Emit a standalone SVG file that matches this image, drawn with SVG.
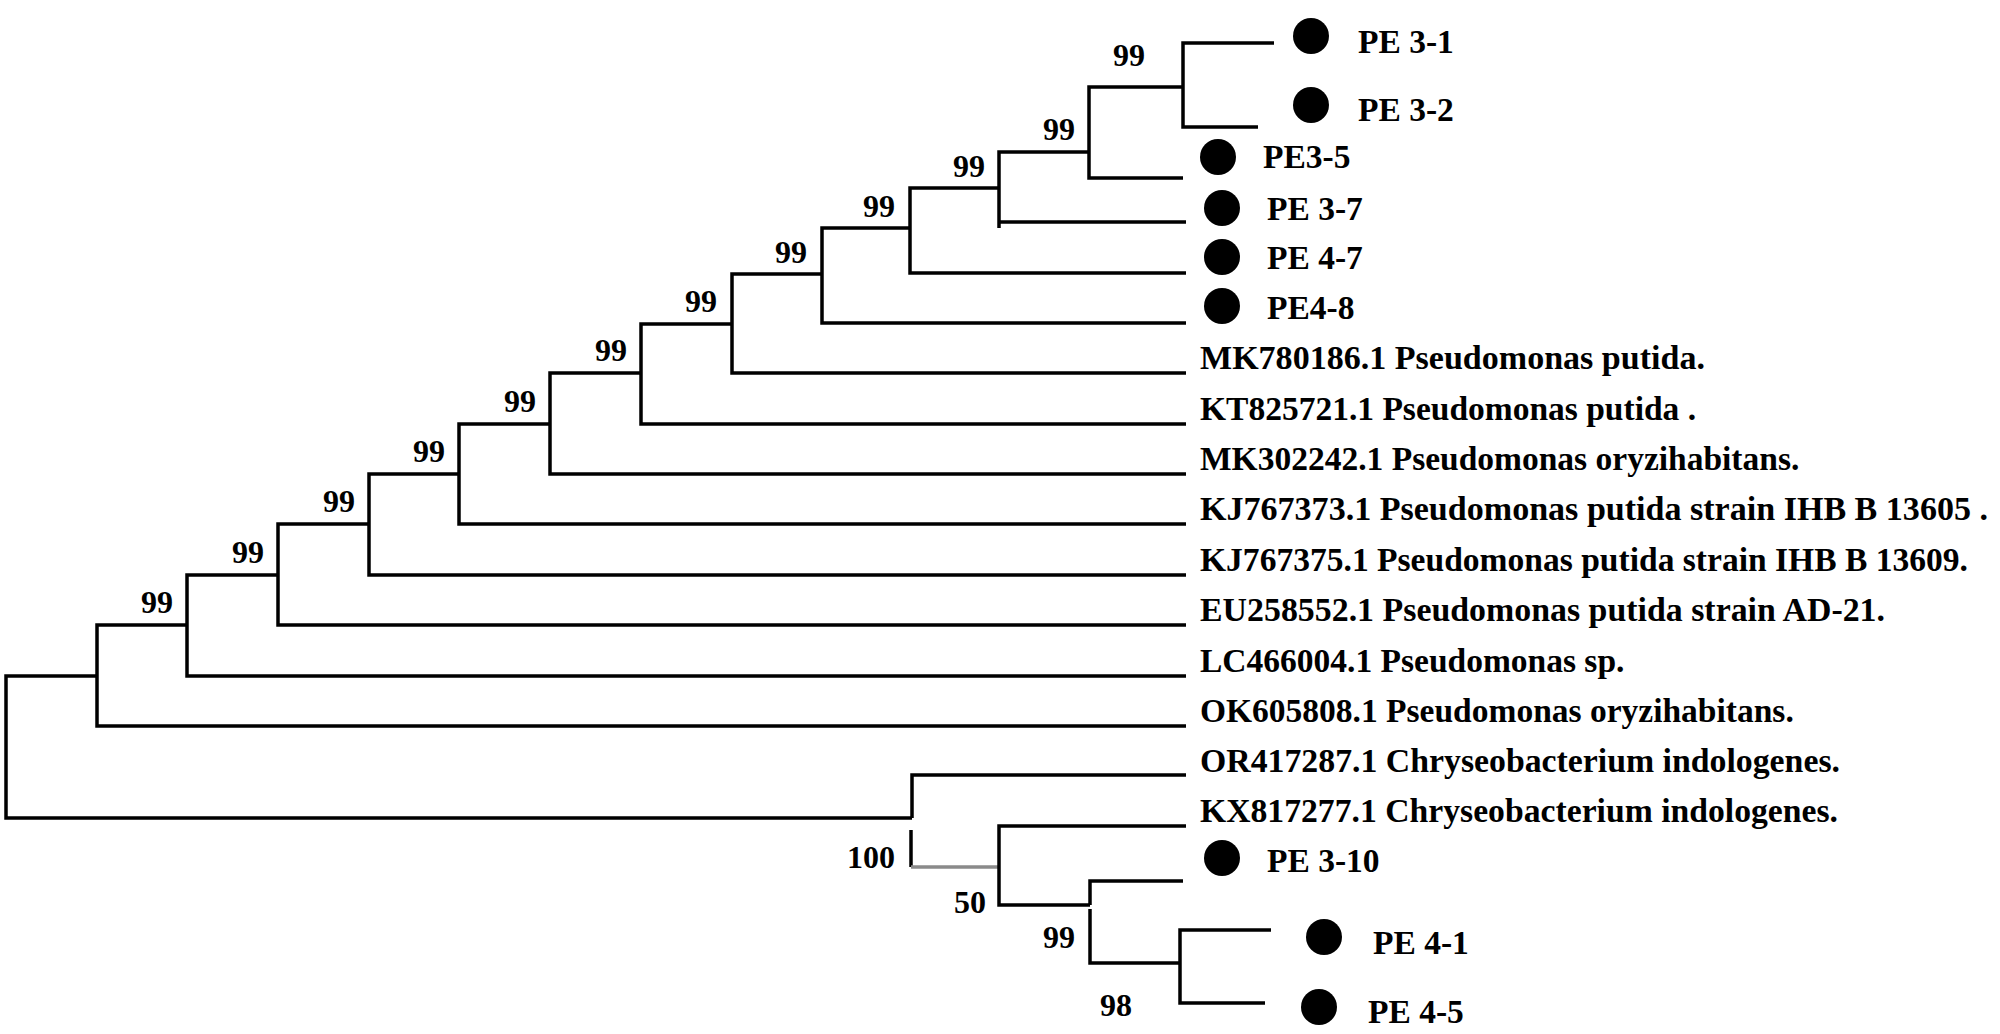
<svg xmlns="http://www.w3.org/2000/svg" width="2000" height="1034" viewBox="0 0 2000 1034">
<style>
.br{fill:none;stroke:#000;stroke-width:3.5;stroke-linejoin:miter;stroke-linecap:butt}
.gr{fill:none;stroke:#8a8a8a;stroke-width:3.5}
.t{font-family:"Liberation Serif","Times New Roman",serif;font-weight:bold;font-size:33.5px;fill:#000}
.b{font-family:"Liberation Serif","Times New Roman",serif;font-weight:bold;font-size:32px;fill:#000;text-anchor:end}
.bm{font-family:"Liberation Serif","Times New Roman",serif;font-weight:bold;font-size:32px;fill:#000;text-anchor:middle}
.dot{fill:#000}
</style>
<rect width="2000" height="1034" fill="#fff"/>
<g id="connectors">
<path class="br" d="M97,676 H6 V818 H912"/>
<path class="br" d="M187,625 H97 V726 H1186"/>
<path class="br" d="M278,575 H187 V676 H1186"/>
<path class="br" d="M369,524 H278 V625 H1186"/>
<path class="br" d="M459,474 H369 V575 H1186"/>
<path class="br" d="M550,424 H459 V524 H1186"/>
<path class="br" d="M641,373 H550 V474 H1186"/>
<path class="br" d="M732,324 H641 V424 H1186"/>
<path class="br" d="M822,274 H732 V373 H1186"/>
<path class="br" d="M910,228 H822 V323 H1186"/>
<path class="br" d="M999,188 H910 V273 H1186"/>
<path class="br" d="M1089,152 H999 V228 M999,222 H1186"/>
<path class="br" d="M1183,87 H1089 V178 H1183"/>
<path class="br" d="M1274,43 H1183 V127 H1258"/>
<path class="br" d="M1186,775 H912 V818"/>
<path class="br" d="M911,830 V867"/>
<path class="gr" d="M911,867 H999"/>
<path class="br" d="M1186,826 H999 V905 H1090"/>
<path class="br" d="M1183,881 H1090 V905 M1090,909 V963 H1180"/>
<path class="br" d="M1271,930 H1180 V1003 H1265"/>
</g>
<g id="bootstrap">
<text class="b" x="173" y="613">99</text>
<text class="b" x="264" y="563">99</text>
<text class="b" x="355" y="512">99</text>
<text class="b" x="445" y="462">99</text>
<text class="b" x="536" y="412">99</text>
<text class="b" x="627" y="361">99</text>
<text class="b" x="717" y="312">99</text>
<text class="b" x="807" y="263">99</text>
<text class="b" x="895" y="217">99</text>
<text class="b" x="985" y="177">99</text>
<text class="b" x="1075" y="140">99</text>
<text class="b" x="1145" y="66">99</text>
<text class="bm" x="871" y="868">100</text>
<text class="bm" x="970" y="913">50</text>
<text class="bm" x="1059" y="948">99</text>
<text class="bm" x="1116" y="1016">98</text>
</g>
<g id="leaf-pe3-1"><circle class="dot" cx="1311" cy="36" r="18"/><text class="t" x="1358" y="53">PE 3-1</text></g>
<g id="leaf-pe3-2"><circle class="dot" cx="1311" cy="105" r="18"/><text class="t" x="1358" y="121">PE 3-2</text></g>
<g id="leaf-pe3-5"><circle class="dot" cx="1218" cy="157" r="18"/><text class="t" x="1263" y="168">PE3-5</text></g>
<g id="leaf-pe3-7"><circle class="dot" cx="1222" cy="208" r="18"/><text class="t" x="1267" y="220">PE 3-7</text></g>
<g id="leaf-pe4-7"><circle class="dot" cx="1222" cy="257" r="18"/><text class="t" x="1267" y="269">PE 4-7</text></g>
<g id="leaf-pe4-8"><circle class="dot" cx="1222" cy="306" r="18"/><text class="t" x="1267" y="319">PE4-8</text></g>
<g id="leaf-mk780186"><text class="t" x="1200" y="369" textLength="505" lengthAdjust="spacingAndGlyphs">MK780186.1 Pseudomonas putida.</text></g>
<g id="leaf-kt825721"><text class="t" x="1200" y="420">KT825721.1 Pseudomonas putida .</text></g>
<g id="leaf-mk302242"><text class="t" x="1200" y="470">MK302242.1 Pseudomonas oryzihabitans.</text></g>
<g id="leaf-kj767373"><text class="t" x="1200" y="520" textLength="788" lengthAdjust="spacingAndGlyphs">KJ767373.1 Pseudomonas putida strain IHB B 13605 .</text></g>
<g id="leaf-kj767375"><text class="t" x="1200" y="571" textLength="768" lengthAdjust="spacingAndGlyphs">KJ767375.1 Pseudomonas putida strain IHB B 13609.</text></g>
<g id="leaf-eu258552"><text class="t" x="1200" y="621" textLength="685" lengthAdjust="spacingAndGlyphs">EU258552.1 Pseudomonas putida strain AD-21.</text></g>
<g id="leaf-lc466004"><text class="t" x="1200" y="672">LC466004.1 Pseudomonas sp.</text></g>
<g id="leaf-ok605808"><text class="t" x="1200" y="722">OK605808.1 Pseudomonas oryzihabitans.</text></g>
<g id="leaf-or417287"><text class="t" x="1200" y="772" textLength="640" lengthAdjust="spacingAndGlyphs">OR417287.1 Chryseobacterium indologenes.</text></g>
<g id="leaf-kx817277"><text class="t" x="1200" y="822" textLength="638" lengthAdjust="spacingAndGlyphs">KX817277.1 Chryseobacterium indologenes.</text></g>
<g id="leaf-pe3-10"><circle class="dot" cx="1222" cy="858" r="18"/><text class="t" x="1267" y="872">PE 3-10</text></g>
<g id="leaf-pe4-1"><circle class="dot" cx="1324" cy="937" r="18"/><text class="t" x="1373" y="954">PE 4-1</text></g>
<g id="leaf-pe4-5"><circle class="dot" cx="1319" cy="1007" r="18"/><text class="t" x="1368" y="1023">PE 4-5</text></g>
</svg>
